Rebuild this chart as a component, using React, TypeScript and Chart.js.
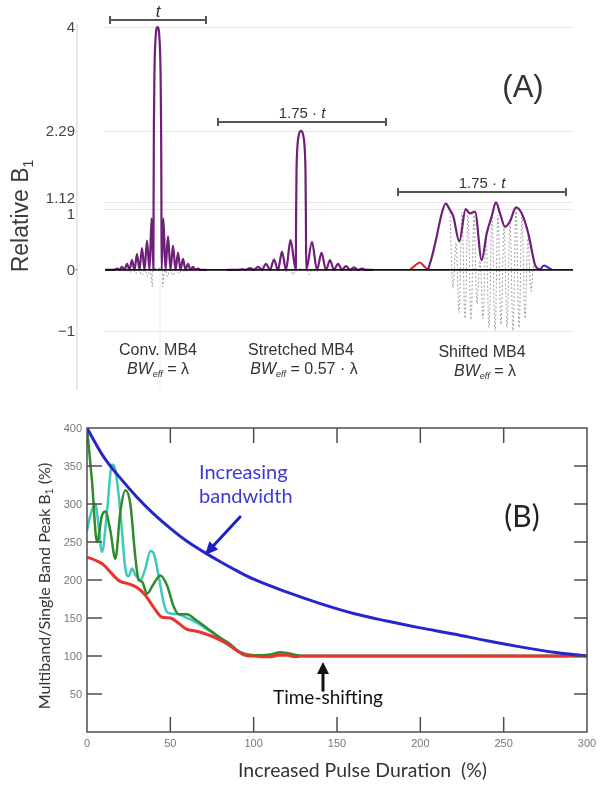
import React, { useEffect, useRef } from "react";
import { Chart, registerables } from "chart.js";

Chart.register(...registerables);

// ================= Panel A data (x in samples, y = relative B1) =================
const aTickValues = [4, 2.29, 1.12, 1, 0, -1];
const aTickLabels = ["4", "2.29", "1.12", "1", "0", "\u22121"];
const aTickNudge = [0, 0, -4, 4, 0, 0];
const aGridValues = [4, 2.29, 1.12, 1, -1];

const baselineX = [28, 496];
const baselineY = [0, 0];

const convX = [28, 37.5, 40, 42.5, 45, 47.5, 50, 52.5, 55, 57.5, 60, 62.5, 65, 67.5, 70, 72.5, 74.6, 76.4,
  76.6, 76.9, 77.5, 78.5, 80.5, 82.5, 83.5, 84.1, 84.4, 84.6,
  86.4, 88.5, 91, 93.5, 96, 98.5, 101, 103.5, 106, 108.5, 111, 113.5, 116, 118.5, 121, 123.5, 130];
const convY = [0, 0, 0.02, 0, 0.05, 0, 0.1, 0, 0.16, 0, 0.26, 0, 0.36, 0, 0.48, 0, 0.85, 0,
  1.2, 2.4, 3.3, 3.8, 4.0, 3.8, 3.3, 2.4, 1.2, 0,
  0.85, 0, 0.55, 0, 0.4, 0, 0.28, 0, 0.18, 0, 0.1, 0, 0.05, 0, 0.02, 0, 0];
const convRealX = [50, 53, 56, 59, 62, 65, 68, 70.5, 73, 75.5, 76.4, 84.6, 85.5, 88, 90.5, 93, 96, 99, 102, 105, 108, 111];
const convRealY = [0, -0.04, 0, -0.06, 0, -0.09, 0, -0.11, 0, -0.28, 0, 0, -0.28, 0, -0.11, 0, -0.09, 0, -0.06, 0, -0.04, 0];

const stretchX = [150, 161, 165, 169, 173, 177, 181, 185, 189, 193, 197, 201, 205, 209, 213.5, 218.8,
  219.1, 219.5, 220.3, 221.8, 224, 226.2, 227.7, 228.5, 228.9, 229.2,
  235, 240, 244.5, 249, 253, 257, 261, 265, 269, 273, 277, 281, 285, 289, 296];
const stretchY = [0, 0, 0.01, 0, 0.03, 0, 0.05, 0, 0.1, 0, 0.17, 0, 0.3, 0, 0.49, 0,
  0.9, 1.6, 2.0, 2.22, 2.29, 2.22, 2.0, 1.6, 0.9, 0,
  0.46, 0, 0.28, 0, 0.16, 0, 0.1, 0, 0.06, 0, 0.04, 0, 0.02, 0, 0];
const stretchRealX = [205, 209, 213, 216, 218.8, 229.2, 232, 235, 239, 243];
const stretchRealY = [0, -0.03, 0, -0.08, 0, 0, -0.08, 0, -0.03, 0];

const shiftLeadX = [333, 338, 343, 347, 351];
const shiftLeadY = [0, 0.07, 0.12, 0.06, 0];
const shiftX = [351, 355, 359.7, 364, 368.7, 372.5, 376.3, 382.3, 388.7, 393, 398, 404.7, 409.7, 414.7,
  419, 423, 428, 433, 439, 444.7, 451.3, 456, 458, 463];
const shiftY = [0, 0.22, 0.55, 0.88, 1.09, 1.0, 0.88, 0.47, 1.0, 0.93, 0.96, 0.16, 0.6, 0.88,
  1.11, 0.93, 0.71, 0.8, 1.03, 0.93, 0.6, 0.22, 0.08, 0];
const shiftTailX = [463, 467, 470, 475];
const shiftTailY = [0, 0.07, 0.05, 0];
const shiftRealX = [373, 376, 379, 382, 385, 388, 391, 394, 397, 400, 403, 406, 409, 412, 415, 418, 421,
  424, 427, 430, 433, 436, 439, 442, 445, 448, 451, 454, 457, 460];
const shiftRealY = [0.95, -0.3, 0.45, -0.7, 0.95, -0.8, 0.9, -0.82, 0.9, -0.55, 0.15, -0.8, 0.55, -0.95,
  0.9, -1.0, 0.9, -0.9, 0.7, -0.95, 0.8, -1.0, 1.0, -0.95, 0.9, -0.8, 0.55, -0.35, 0.1, 0];

// ================= Panel B data (x = increased pulse duration %, y = peak B1 %) =================
const bYTickLabels = [50, 100, 150, 200, 250, 300, 350, 400];
const bXTickLabels = [0, 50, 100, 150, 200, 250, 300];
const bYInnerTicks = [50, 100, 150, 200, 250, 300, 350];
const bXInnerTicks = [50, 100, 150, 200, 250];

const blueX = [0, 10, 20, 30, 40, 50, 60, 70, 80, 90, 100, 120, 140, 160, 180, 200, 220, 240, 260, 280, 300];
const blueY = [400, 362, 334, 309, 287, 268, 251, 237, 224, 212, 201, 184, 169, 156, 146, 137, 129, 120, 112, 105, 100];

const redX = [0, 5, 10, 15, 20, 25, 30, 35, 40, 45, 50, 55, 60, 65, 70, 75, 80, 85, 90, 95, 100, 105, 110,
  115, 120, 125, 130, 140, 160, 200, 250, 300];
const redY = [230, 226, 220, 208, 198, 195, 190, 180, 164, 151, 150, 143, 135, 133, 130, 126, 121, 115, 107,
  101, 100, 99, 99, 101, 101, 99, 100, 100, 100, 100, 100, 100];

const greenX = [0, 3, 6, 9, 11, 14, 17, 20, 23, 26, 29, 31, 33, 36, 40, 44, 48, 52, 55, 60, 65, 70, 75, 80,
  85, 90, 95, 100, 105, 110, 116, 120, 124, 130, 140, 160, 200, 250, 300];
const greenY = [400, 330, 250, 285, 290, 265, 228, 290, 318, 300, 230, 200, 198, 182, 195, 206, 193, 165,
  155, 155, 148, 140, 132, 124, 117, 108, 102, 101, 101, 102, 105, 104, 102, 100, 100, 100, 100, 100, 100];

const cyanX = [0, 2, 5, 7, 9, 12, 15, 17, 20, 23, 25, 27, 29, 32, 35, 38, 40, 43, 46, 48, 50, 55, 60, 65,
  70, 75, 80, 85, 90, 95, 100, 110, 115, 120, 130, 140, 160, 200, 250, 300];
const cyanY = [265, 285, 300, 270, 237, 290, 352, 345, 290, 215, 205, 215, 207, 200, 215, 238, 235, 205,
  170, 158, 156, 155, 150, 145, 138, 131, 122, 114, 107, 103, 101, 101, 103, 102, 100, 100, 100, 100, 100, 100];

// ================= helpers =================
const SANS_A = '"Liberation Sans", Arial, sans-serif';
const SANS_B = 'Lato, "Open Sans", sans-serif';

const zip = (xs: number[], ys: number[]) => xs.map((x, i) => ({ x, y: ys[i] }));

type Run = { t: string; f: string; dy?: number };

function drawRuns(ctx: CanvasRenderingContext2D, runs: Run[], x: number, y: number, align: string, color: string) {
  let w = 0;
  for (const r of runs) {
    ctx.font = r.f;
    w += ctx.measureText(r.t).width;
  }
  let cx = align === "left" ? x : align === "center" ? x - w / 2 : x - w;
  ctx.textAlign = "left";
  ctx.textBaseline = "alphabetic";
  ctx.fillStyle = color;
  for (const r of runs) {
    ctx.font = r.f;
    ctx.fillText(r.t, cx, y + (r.dy || 0));
    cx += ctx.measureText(r.t).width;
  }
}

function fitSize(ctx: CanvasRenderingContext2D, text: string, family: string, style: string, target: number) {
  ctx.font = `${style} 100px ${family}`;
  const w = ctx.measureText(text).width;
  return (100 * target) / w;
}

function seg(ctx: CanvasRenderingContext2D, x1: number, y1: number, x2: number, y2: number) {
  ctx.beginPath();
  ctx.moveTo(x1, y1);
  ctx.lineTo(x2, y2);
  ctx.stroke();
}

function arrow(ctx: CanvasRenderingContext2D, x1: number, y1: number, x2: number, y2: number, color: string,
  width: number, head: number, hw: number) {
  const ang = Math.atan2(y2 - y1, x2 - x1);
  const bx = x2 - head * Math.cos(ang);
  const by = y2 - head * Math.sin(ang);
  ctx.strokeStyle = color;
  ctx.fillStyle = color;
  ctx.lineWidth = width;
  ctx.lineCap = "round";
  seg(ctx, x1, y1, bx + 2 * Math.cos(ang), by + 2 * Math.sin(ang));
  ctx.beginPath();
  ctx.moveTo(x2, y2);
  ctx.lineTo(bx + hw * Math.sin(ang), by - hw * Math.cos(ang));
  ctx.lineTo(bx - hw * Math.sin(ang), by + hw * Math.cos(ang));
  ctx.closePath();
  ctx.fill();
}

// ================= Panel A plugin =================
const panelAPlugin = {
  id: "panelA",
  beforeDatasetsDraw(chart: any) {
    const { ctx, chartArea: a, scales } = chart;
    const x = scales.x, y = scales.y;
    ctx.save();
    ctx.strokeStyle = "#e6e6e6";
    ctx.lineWidth = 1;
    for (const v of aGridValues) {
      const py = Math.round(y.getPixelForValue(v)) + 0.5;
      seg(ctx, x.getPixelForValue(baselineX[0]), py, x.getPixelForValue(baselineX[1]), py);
    }
    ctx.strokeStyle = "#e0e0e0";
    ctx.lineWidth = 1.5;
    seg(ctx, a.left, y.getPixelForValue(4.05), a.left, a.bottom);
    ctx.strokeStyle = "#ececec";
    ctx.lineWidth = 1;
    seg(ctx, x.getPixelForValue(83), y.getPixelForValue(0), x.getPixelForValue(83), a.bottom);
    ctx.restore();
  },
  afterDatasetsDraw(chart: any) {
    const { ctx, chartArea: a, scales } = chart;
    const x = scales.x, y = scales.y;
    ctx.save();
    aTickValues.forEach((v, i) => {
      const py = y.getPixelForValue(v) + aTickNudge[i];
      drawRuns(ctx, [{ t: aTickLabels[i], f: `15px ${SANS_A}` }], a.left - 2, py + 5.4, "right", "#444");
    });
    ctx.strokeStyle = "#999";
    ctx.lineWidth = 1;
    seg(ctx, a.left - 2, y.getPixelForValue(0), a.left + 1, y.getPixelForValue(0));

    ctx.save();
    ctx.translate(28, 216);
    ctx.rotate(-Math.PI / 2);
    drawRuns(ctx, [
      { t: "Relative B", f: `23px ${SANS_A}` },
      { t: "1", f: `14px ${SANS_A}`, dy: 5 },
    ], 0, 0, "center", "#3c3c3c");
    ctx.restore();

    const brackets = [
      { x0: 33, x1: 129, v: 4.116, label: [{ t: "t", f: `italic 17px ${SANS_A}` }], lv: 4.17 },
      { x0: 141, x1: 309, v: 2.435, label: [{ t: "1.75 \u00b7 ", f: `15px ${SANS_A}` }, { t: "t", f: `italic 15px ${SANS_A}` }], lv: 2.5 },
      { x0: 321, x1: 489, v: 1.282, label: [{ t: "1.75 \u00b7 ", f: `15px ${SANS_A}` }, { t: "t", f: `italic 15px ${SANS_A}` }], lv: 1.345 },
    ];
    ctx.strokeStyle = "#555";
    ctx.lineWidth = 2;
    for (const b of brackets) {
      const p0 = x.getPixelForValue(b.x0), p1 = x.getPixelForValue(b.x1), py = y.getPixelForValue(b.v);
      seg(ctx, p0, py, p1, py);
      seg(ctx, p0, py - 4, p0, py + 4);
      seg(ctx, p1, py - 4, p1, py + 4);
      drawRuns(ctx, b.label, (p0 + p1) / 2, y.getPixelForValue(b.lv), "center", "#333");
    }

    drawRuns(ctx, [{ t: "(A)", f: `31px ${SANS_A}` }], 523, 97, "center", "#333");

    const names = [
      { name: "Conv. MB4", cx: 158, bx: 158, bw: " = \u03bb", by: 355 },
      { name: "Stretched MB4", cx: 301, bx: 304, bw: " = 0.57 \u00b7 \u03bb", by: 355 },
      { name: "Shifted MB4", cx: 482, bx: 485, bw: " = \u03bb", by: 357 },
    ];
    for (const n of names) {
      drawRuns(ctx, [{ t: n.name, f: `16px ${SANS_A}` }], n.cx, n.by, "center", "#333");
      drawRuns(ctx, [
        { t: "BW", f: `italic 16px ${SANS_A}` },
        { t: "eff", f: `italic 9px ${SANS_A}`, dy: 3 },
        { t: n.bw, f: `16px ${SANS_A}` },
      ], n.bx, n.by + 19, "center", "#333");
    }
    ctx.restore();
  },
};

// ================= Panel B plugin =================
const panelBPlugin = {
  id: "panelB",
  afterDatasetsDraw(chart: any) {
    const { ctx, chartArea: a, scales } = chart;
    const x = scales.x, y = scales.y;
    ctx.save();
    ctx.strokeStyle = "#4d4d4d";
    ctx.lineWidth = 1.5;
    ctx.strokeRect(a.left, a.top, a.right - a.left, a.bottom - a.top);
    for (const v of bYInnerTicks) {
      const py = y.getPixelForValue(v);
      seg(ctx, a.left, py, a.left + 15, py);
      seg(ctx, a.right, py, a.right - 13, py);
    }
    for (const v of bXInnerTicks) {
      const px = x.getPixelForValue(v);
      seg(ctx, px, a.bottom, px, a.bottom - 15);
      seg(ctx, px, a.top, px, a.top + 15);
    }
    for (const v of bYTickLabels) {
      drawRuns(ctx, [{ t: String(v), f: `11px ${SANS_A}` }], a.left - 5, y.getPixelForValue(v) + 4, "right", "#777");
    }
    for (const v of bXTickLabels) {
      drawRuns(ctx, [{ t: String(v), f: `11px ${SANS_A}` }], x.getPixelForValue(v), a.bottom + 15, "center", "#777");
    }

    const xt = "Increased Pulse Duration  (%)";
    const xs = fitSize(ctx, xt, SANS_B, "", 249);
    drawRuns(ctx, [{ t: xt, f: `${xs}px ${SANS_B}` }], 362.5, a.bottom + 45, "center", "#333");

    const ys = fitSize(ctx, "Multiband/Single Band Peak B1 (%)", SANS_B, "", 250);
    ctx.save();
    ctx.translate(50, 586 - 395);
    ctx.rotate(-Math.PI / 2);
    drawRuns(ctx, [
      { t: "Multiband/Single Band Peak B", f: `${ys}px ${SANS_B}` },
      { t: "1", f: `${ys * 0.65}px ${SANS_B}`, dy: 3 },
      { t: " (%)", f: `${ys}px ${SANS_B}` },
    ], 0, 0, "center", "#333");
    ctx.restore();

    drawRuns(ctx, [{ t: "(B)", f: `30px ${SANS_B}` }], 522, 527 - 395, "center", "#222");

    drawRuns(ctx, [{ t: "Increasing", f: `20px ${SANS_B}` }], 199, 479 - 395, "left", "#3b3bd2");
    drawRuns(ctx, [{ t: "bandwidth", f: `20px ${SANS_B}` }], 199, 503 - 395, "left", "#3b3bd2");
    arrow(ctx, x.getPixelForValue(91.8), y.getPixelForValue(283), x.getPixelForValue(70.8), y.getPixelForValue(233),
      "#1f1fc8", 3, 13, 6);

    drawRuns(ctx, [{ t: "Time-shifting", f: `19px ${SANS_B}` }], 273, 704 - 395, "left", "#111");
    arrow(ctx, x.getPixelForValue(141.6), y.getPixelForValue(55), x.getPixelForValue(141.6), y.getPixelForValue(92),
      "#111", 3, 12, 6);
    ctx.restore();
  },
};

// ================= configs =================
const PURPLE = "#6e1f78";

function line(xs: number[], ys: number[], color: string, width: number, extra: any = {}) {
  return {
    data: zip(xs, ys),
    borderColor: color,
    borderWidth: width,
    pointRadius: 0,
    fill: false,
    cubicInterpolationMode: "monotone",
    ...extra,
  };
}

function configA(): any {
  return {
    type: "line",
    data: {
      datasets: [
        line(baselineX, baselineY, "#111", 1.6, { cubicInterpolationMode: "default", tension: 0 }),
        line(convX, convY, PURPLE, 2.2),
        line(stretchX, stretchY, PURPLE, 2.2),
        line(shiftX, shiftY, PURPLE, 2.2),
        line(shiftLeadX, shiftLeadY, "#e02424", 2),
        line(shiftTailX, shiftTailY, "#2e2ec4", 2),
        line(convRealX, convRealY, "#a0a0a0", 1, { borderDash: [2, 2], cubicInterpolationMode: "default", tension: 0.4 }),
        line(stretchRealX, stretchRealY, "#a0a0a0", 1, { borderDash: [2, 2], cubicInterpolationMode: "default", tension: 0.4 }),
        line(shiftRealX, shiftRealY, "#a0a0a0", 1, { borderDash: [2, 2], cubicInterpolationMode: "default", tension: 0.4 }),
      ],
    },
    options: {
      responsive: false,
      animation: false,
      events: [],
      layout: { padding: { left: 77, right: 27, top: 21, bottom: 5 } },
      plugins: { legend: { display: false }, tooltip: { enabled: false } },
      scales: {
        x: { type: "linear", min: 0, max: 498, display: false },
        y: { type: "linear", min: -1.98, max: 4.1, display: false },
      },
    },
    plugins: [panelAPlugin],
  };
}

function configB(): any {
  return {
    type: "line",
    data: {
      datasets: [
        line(blueX, blueY, "#2626cc", 3),
        line(redX, redY, "#e8342c", 3),
        line(greenX, greenY, "#2e8b2e", 2.5),
        line(cyanX, cyanY, "#3ec9bd", 2.5),
      ],
    },
    options: {
      responsive: false,
      animation: false,
      events: [],
      layout: { padding: { left: 87, right: 15, top: 33, bottom: 53 } },
      plugins: { legend: { display: false }, tooltip: { enabled: false } },
      scales: {
        x: { type: "linear", min: 0, max: 300, display: false },
        y: { type: "linear", min: 0, max: 400, display: false },
      },
    },
    plugins: [panelBPlugin],
  };
}

function ChartCanvas({ make, width, height, top }: { make: () => any; width: number; height: number; top: number }) {
  const ref = useRef<HTMLCanvasElement>(null);
  useEffect(() => {
    const chart = new Chart(ref.current as HTMLCanvasElement, make());
    return () => chart.destroy();
  }, []);
  return (
    <canvas
      ref={ref}
      width={width}
      height={height}
      style={{ position: "absolute", left: 0, top, width, height, display: "block" }}
    />
  );
}

export default function App() {
  return (
    <div style={{ position: "absolute", left: 0, top: 0, width: 602, height: 785, background: "#fff", overflow: "hidden" }}>
      <ChartCanvas make={configA} width={602} height={395} top={0} />
      <ChartCanvas make={configB} width={602} height={390} top={395} />
    </div>
  );
}
